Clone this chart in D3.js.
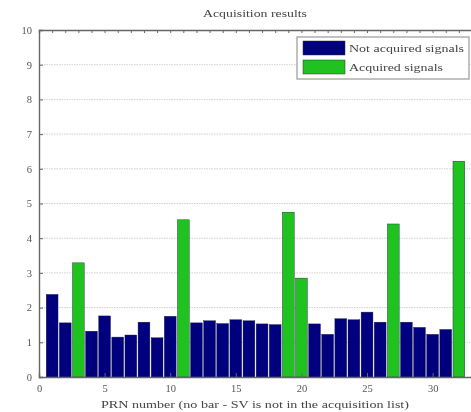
<!DOCTYPE html>
<html><head><meta charset="utf-8">
<script src="https://cdn.jsdelivr.net/npm/d3@7"></script>
<style>body{margin:0;background:#fff}svg{display:block;filter:blur(0.45px)}</style>
</head><body>
<svg id="c" width="471" height="412"></svg>
<script>
const prn = d3.range(1, 33);
const notAcquired = [2.38,1.56,0,1.32,1.76,1.15,1.21,1.58,1.13,1.75,0,1.56,1.62,1.54,1.65,1.62,1.53,1.51,0,0,1.53,1.23,1.68,1.65,1.87,1.58,0,1.58,1.43,1.23,1.37,0];
const acquired =    [0,0,3.29,0,0,0,0,0,0,0,4.53,0,0,0,0,0,0,0,4.75,2.85,0,0,0,0,0,0,4.41,0,0,0,0,6.22];
const xTicks = [0,5,10,15,20,25,30];
const yTicks = d3.range(0, 11);
const titleText = "Acquisition results";
const xLabel = "PRN number (no bar - SV is not in the acquisition list)";
const legendLabels = ["Not acquired signals", "Acquired signals"];
const colors = ["#00007f", "#1fc21f"];

const svg = d3.select("#c");
const L = 39, T = 30, R = 472, B = 377;
const x = d3.scaleLinear().domain([0, 33]).range([L, R]);
const y = d3.scaleLinear().domain([0, 10]).range([B, T]);
const font = "'Liberation Serif', 'DejaVu Serif', serif";

// grid
svg.append("g").selectAll("line").data(yTicks.slice(1, -1)).join("line")
  .attr("x1", L).attr("x2", R).attr("y1", d => y(d)).attr("y2", d => y(d))
  .attr("stroke", "#cfcfcf").attr("stroke-width", 1).attr("stroke-dasharray", "1.5,1");

const bw = 0.9 * (x(1) - x(0));
function bars(vals, col) {
  svg.append("g").selectAll("rect").data(prn.filter((p, i) => vals[i] > 0)).join("rect")
    .attr("x", p => x(p) - bw / 2).attr("width", bw)
    .attr("y", p => y(vals[p - 1])).attr("height", p => B - y(vals[p - 1]))
    .attr("fill", col).attr("stroke", "#1a1a4a").attr("stroke-width", 0.4);
}
bars(notAcquired, colors[0]);
bars(acquired, colors[1]);

// axes
const yAxis = d3.axisLeft(y).tickValues(yTicks).tickSize(-4).tickPadding(7);
const gy = svg.append("g").attr("transform", `translate(${L},0)`).call(yAxis);
const xAxis = d3.axisBottom(x).tickValues(xTicks).tickSize(-4).tickPadding(8);
const gx = svg.append("g").attr("transform", `translate(0,${B})`).call(xAxis);
const xTop = d3.axisTop(x).tickValues(d3.range(0, 34)).tickSize(-3).tickFormat("");
const gt = svg.append("g").attr("transform", `translate(0,${T})`).call(xTop);
[gy, gx, gt].forEach(g => {
  g.select(".domain").attr("stroke", "#666").attr("stroke-width", 1.4);
  g.selectAll(".tick line").attr("stroke", "#666");
  g.selectAll("text").attr("font-family", font).attr("font-size", 10.5).attr("fill", "#555");
});

// title and label
svg.append("text").attr("x", 255).attr("y", 17).attr("text-anchor", "middle")
  .attr("font-family", font).attr("font-size", 11).attr("fill", "#444")
  .attr("textLength", 104).attr("lengthAdjust", "spacingAndGlyphs").text(titleText);
svg.append("text").attr("x", 255).attr("y", 408).attr("text-anchor", "middle")
  .attr("font-family", font).attr("font-size", 11).attr("fill", "#444")
  .attr("textLength", 308).attr("lengthAdjust", "spacingAndGlyphs").text(xLabel);

// legend
const lg = svg.append("g");
lg.append("rect").attr("x", 297).attr("y", 37).attr("width", 172).attr("height", 42)
  .attr("fill", "#fff").attr("stroke", "#999").attr("stroke-width", 1.2);
const legLen = [115, 94];
legendLabels.forEach((t, i) => {
  lg.append("rect").attr("x", 303).attr("y", 41 + i * 19).attr("width", 42).attr("height", 14)
    .attr("fill", colors[i]).attr("stroke", "#333").attr("stroke-width", 0.5);
  lg.append("text").attr("x", 349).attr("y", 52 + i * 19).attr("font-family", font)
    .attr("font-size", 11).attr("fill", "#444")
    .attr("textLength", legLen[i]).attr("lengthAdjust", "spacingAndGlyphs").text(t);
});
</script>
</body></html>
